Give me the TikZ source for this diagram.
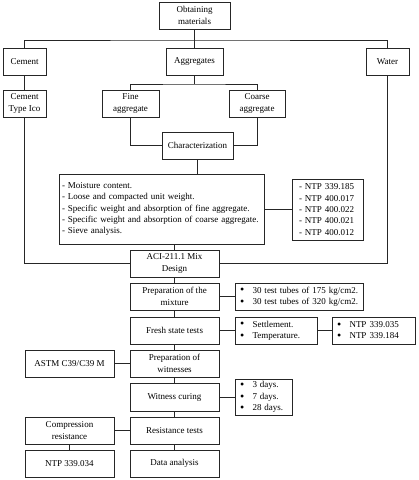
\documentclass[tikz,border=0pt]{standalone}
\usepackage{fontspec}
\setmainfont{Liberation Serif}
\begin{document}
\begin{tikzpicture}[x=1pt,y=-1pt,
  box/.style={draw=black!85, line width=0.7pt, inner sep=0pt, align=center, font=\fontsize{9}{11.3}\selectfont},
  lbox/.style={draw=black!85, line width=0.7pt, inner ysep=0pt, align=left, font=\fontsize{9}{11.3}\selectfont},
  bbox/.style={lbox, inner xsep=2.5pt},
  conn/.style={draw=black!85, line width=0.7pt}]
\useasboundingbox (0,0) rectangle (419,480);
\newcommand{\bl}{\makebox[15pt][l]{\hspace{2.5pt}\raisebox{-0.9pt}{\fontsize{12}{9}\selectfont\textbullet}}}
% nodes
\node[box, minimum width=71pt, minimum height=27pt] (obt) at (194.5,15.5) {Obtaining\\materials};
\node[box, minimum width=43pt, minimum height=27pt] (cement) at (24.5,61.5) {Cement};
\node[box, minimum width=57pt, minimum height=27pt] (agg) at (194.5,61.5) {Aggregates};
\node[box, minimum width=43pt, minimum height=27pt] (water) at (387.5,61.5) {Water};
\node[box, minimum width=43pt, minimum height=27pt] (cti) at (24.5,103.5) {Cement\\Type Ico};
\node[box, minimum width=57pt, minimum height=27pt] (fine) at (130.5,103.5) {Fine\\aggregate};
\node[box, minimum width=56pt, minimum height=27pt] (coarse) at (257,103.5) {Coarse\\aggregate};
\node[box, minimum width=71pt, minimum height=27pt] (char) at (197.5,145.5) {Characterization};
\node[lbox, inner xsep=3pt, text width=199pt, minimum height=70pt] (list) at (161.5,209) {- Moisture content.\\- Loose and compacted unit weight.\\- Specific weight and absorption of fine aggregate.\\- Specific weight and absorption of coarse aggregate.\\- Sieve analysis.};
\node[lbox, inner xsep=7pt, text width=57pt, minimum height=61pt] (ntpa) at (327.5,209.5) {- NTP 339.185\\- NTP 400.017\\- NTP 400.022\\- NTP 400.021\\- NTP 400.012};
\node[box, minimum width=89pt, minimum height=27pt] (aci) at (174.5,263.5) {ACI-211.1 Mix\\Design};
\node[box, minimum width=89pt, minimum height=27pt] (prep) at (174.5,296.5) {Preparation of the\\mixture};
\node[bbox, text width=123pt, minimum height=27pt] (bula) at (299,296.5) {\bl30 test tubes of 175 kg/cm2.\\\bl30 test tubes of 320 kg/cm2.};
\node[box, minimum width=89pt, minimum height=27pt] (fresh) at (174.5,330.5) {Fresh state tests};
\node[bbox, text width=77pt, minimum height=27pt] (bulb) at (276,330.5) {\bl Settlement.\\\bl Temperature.};
\node[bbox, text width=78pt, minimum height=27pt] (bulc) at (373.5,330.5) {\bl NTP 339.035\\\bl NTP 339.184};
\node[box, minimum width=89pt, minimum height=27pt] (wit) at (174.5,363.5) {Preparation of\\witnesses};
\node[box, minimum width=89pt, minimum height=27pt] (astm) at (69.5,363.5) {ASTM C39/C39 M};
\node[box, minimum width=89pt, minimum height=28pt] (cur) at (174.5,397) {Witness curing};
\node[bbox, text width=52pt, minimum height=36pt] (days) at (263.5,397) {\bl 3 days.\\\bl 7 days.\\\bl 28 days.};
\node[box, minimum width=89pt, minimum height=27pt] (res) at (174.5,430.5) {Resistance tests};
\node[box, minimum width=89pt, minimum height=27pt] (comp) at (69.5,430.5) {Compression\\resistance};
\node[box, minimum width=89pt, minimum height=27pt] (ntpb) at (69.5,463.5) {NTP 339.034};
\node[box, minimum width=89pt, minimum height=27pt] (data) at (174.5,463.5) {Data analysis};
% connectors
\coordinate (topj) at (194.5,40);
\coordinate (aggj) at (194.5,84);
\draw[conn] (obt) -- (agg);
\draw[conn] (cement.north) |- (topj) -| (water.north);
\draw[conn] (cement) -- (cti);
\draw[conn] (agg) -- (aggj);
\draw[conn] (fine.north) |- (aggj) -| (coarse.north);
\draw[conn] (fine.south) |- (char.west);
\draw[conn] (coarse.south) |- (char.east);
\draw[conn] (char) -- (char |- list.north);
\draw[conn] (list.east |- ntpa.west) -- (ntpa.west);
\draw[conn] (aci.north |- list.south) -- (aci);
\draw[conn] (cti.south) |- (aci.west);
\draw[conn] (water.south) |- (aci.east);
\draw[conn] (aci) -- (prep);
\draw[conn] (prep) -- (bula);
\draw[conn] (prep) -- (fresh);
\draw[conn] (fresh) -- (bulb);
\draw[conn] (bulb) -- (bulc);
\draw[conn] (fresh) -- (wit);
\draw[conn] (astm) -- (wit);
\draw[conn] (wit) -- (cur);
\draw[conn] (cur) -- (days.west |- cur.east);
\draw[conn] (cur) -- (res);
\draw[conn] (comp) -- (res);
\draw[conn] (res) -- (data);
\draw[conn] (comp) -- (ntpb);
\end{tikzpicture}
\end{document}
